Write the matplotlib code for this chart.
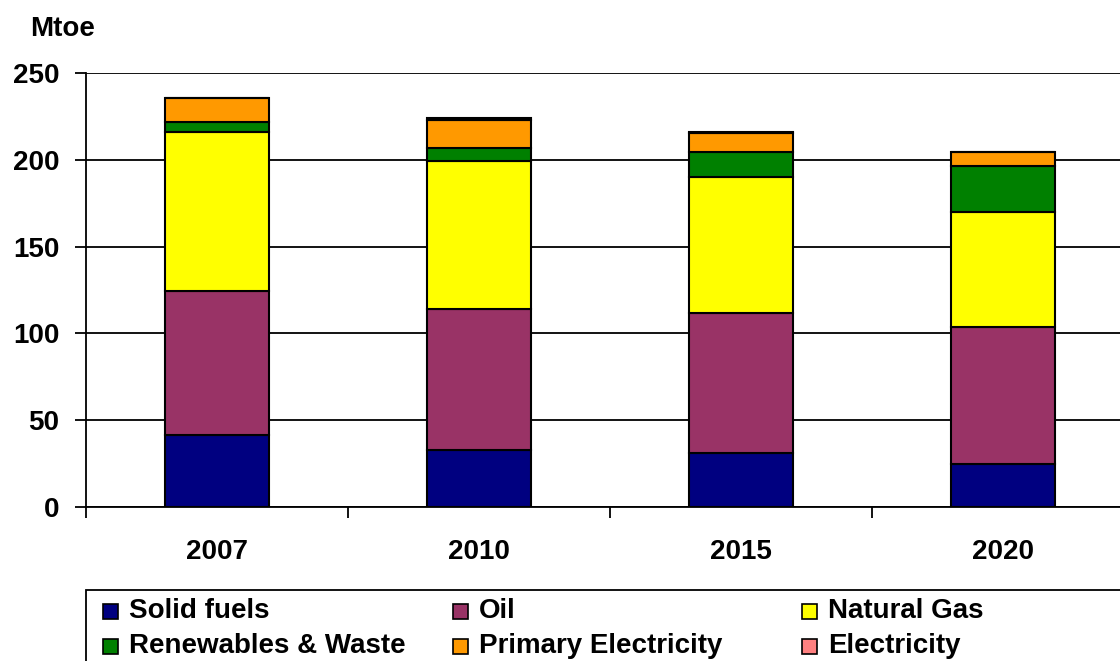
import matplotlib.pyplot as plt
import numpy as np
from matplotlib.patches import Rectangle

plt.rcParams["font.family"] = ["Liberation Sans", "DejaVu Sans"]
plt.rcParams["font.weight"] = "bold"

years = ["2007", "2010", "2015", "2020"]
series = ["Solid fuels", "Oil", "Natural Gas",
          "Renewables & Waste", "Primary Electricity", "Electricity"]
solid_fuels = [41.5, 32.8, 31.1, 24.8]
oil = [82.9, 81.2, 80.7, 78.9]
natural_gas = [91.9, 85.5, 78.1, 66.2]
renewables = [5.5, 7.3, 14.8, 26.5]
primary_elec = [13.6, 15.9, 10.5, 8.3]
electricity = [0.0, 1.2, 1.0, 0.0]
colors = ["#000080", "#993366", "#FFFF00", "#008000", "#FF9900", "#FF8080"]

values = [solid_fuels, oil, natural_gas, renewables, primary_elec, electricity]

W, H = 1120, 661
fig = plt.figure(figsize=(W / 100, H / 100), dpi=100)
ax = fig.add_axes([86 / W, 1 - 507 / H, 1048 / W, 434 / H])

x = np.arange(len(years))
bottom = np.zeros(len(years))
for vals, color in zip(values, colors):
    ax.bar(x, vals, width=0.4, bottom=bottom, color=color,
           edgecolor="black", linewidth=1.5, zorder=3)
    bottom += np.array(vals)

ax.set_xlim(-0.5, 3.5)
ax.set_ylim(0, 250)
ax.set_yticks(range(0, 251, 50))
ax.yaxis.grid(True, color="black", linewidth=1.3, zorder=0)
for s in ["top", "right"]:
    ax.spines[s].set_visible(False)
ax.spines["left"].set_linewidth(1.3)
ax.spines["bottom"].set_linewidth(1.3)

ax.set_xticks(x)
ax.set_xticklabels(years, fontsize=20, fontweight="bold")
ax.tick_params(axis="x", length=0, pad=23)
ax.set_xticks(np.arange(-0.5, 4.0, 1.0), minor=True)
ax.tick_params(axis="x", which="minor", length=8, width=1.3, direction="out")
ax.tick_params(axis="y", labelsize=20, length=8, width=1.3, pad=11)
for lbl in ax.get_yticklabels():
    lbl.set_fontweight("bold")

fig.text(30 / W, 1 - 29 / H, "Mtoe", fontsize=20, fontweight="bold",
         va="center", ha="left")

# legend drawn by hand: row-wise, box running off the right and bottom edges
fig.add_artist(Rectangle((86 / W, -0.05), 1.0, 1 - 590 / H + 0.05,
                         transform=fig.transFigure, facecolor="white",
                         edgecolor="black", linewidth=1.3))
col_x = [103, 453, 802]
row_y = [611, 646]
size = 15
for i, (name, color) in enumerate(zip(series, colors)):
    cx, cy = col_x[i % 3], row_y[i // 3]
    fig.add_artist(Rectangle((cx / W, 1 - (cy + size / 2) / H), size / W, size / H,
                             transform=fig.transFigure, facecolor=color,
                             edgecolor="black", linewidth=1.2))
    fig.text((cx + 26) / W, 1 - cy / H, name, fontsize=20, fontweight="bold",
             va="center", ha="left")

fig.savefig("out.png", dpi=100)
